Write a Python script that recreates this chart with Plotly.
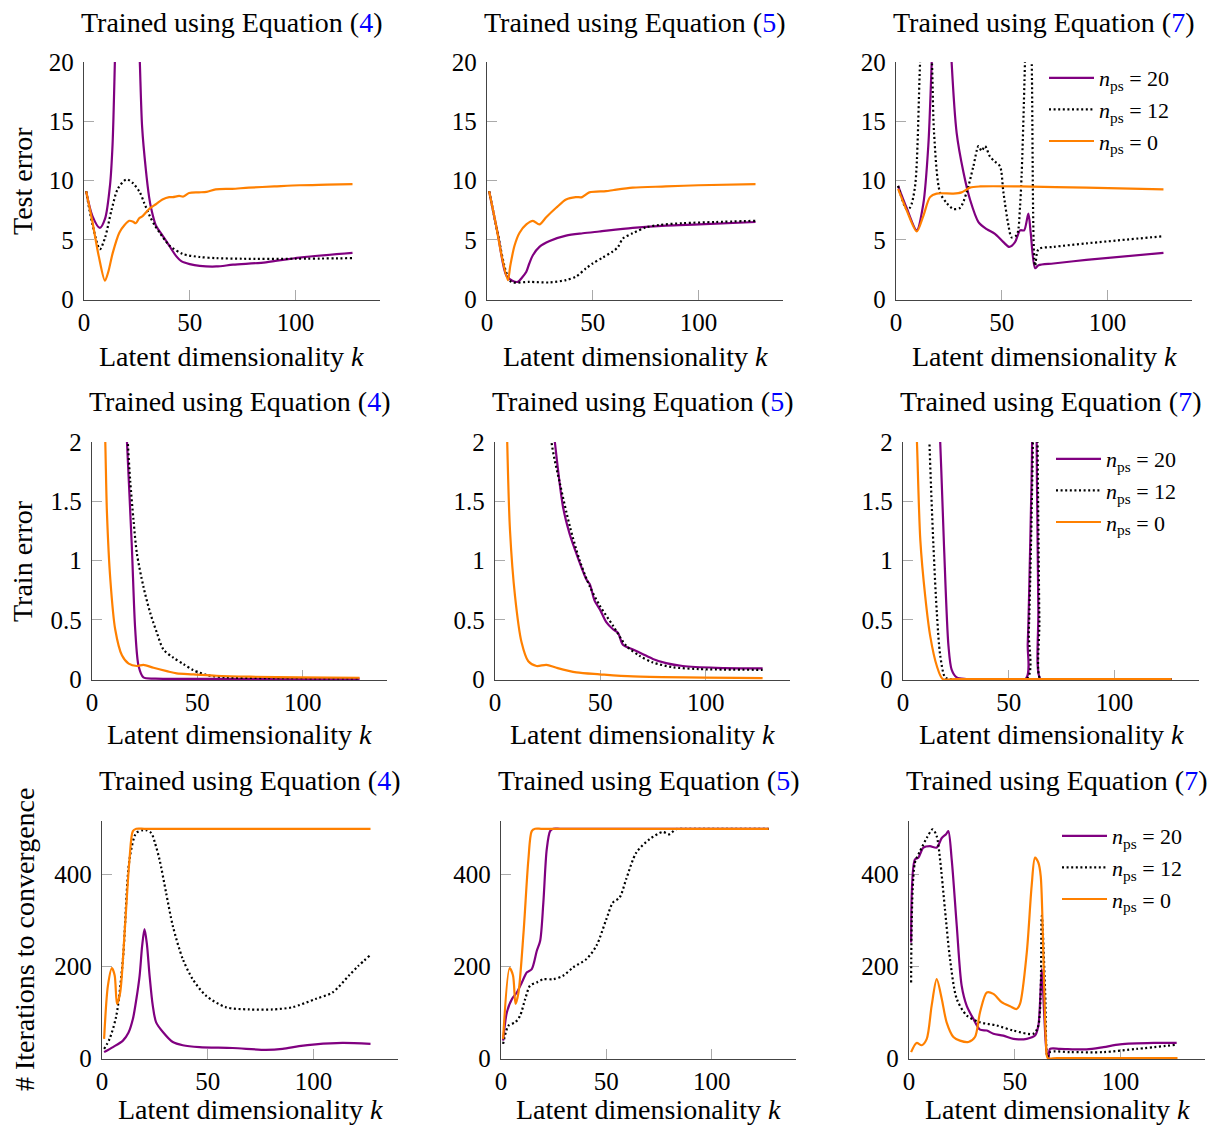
import plotly.graph_objects as go

W, H = 1217, 1126
PURPLE = "#800080"
ORANGE = "#FF8000"
BLACK = "#000000"

x_ticks = [0, 50, 100]
row_yticks = [[0, 5, 10, 15, 20], [0, 0.5, 1, 1.5, 2], [0, 200, 400]]
row_ytext = [["0", "5", "10", "15", "20"], ["0", "0.5", "1", "1.5", "2"], ["0", "200", "400"]]
row_yrange = [[-0.08, 20], [-0.008, 2], [-2, 517]]
row_ylabel = ["Test error", "Train error", "# Iterations to convergence"]
equations = ["4", "5", "7"]
series_names = ["<i>n</i><sub>ps</sub> = 20", "<i>n</i><sub>ps</sub> = 12", "<i>n</i><sub>ps</sub> = 0"]

# ---------------- Row 1: Test error ----------------
k_test4_n20 = [1, 4, 7.5, 10, 12.3, 13.5, 14.6, 17, 20, 23, 26.4, 27.5, 29.2, 30.8, 31.7, 34, 37, 40.3, 43.7, 46, 50, 54.7, 62.6, 70.5, 86, 102, 127]
v_test4_n20 = [9.1, 7.0, 6.0, 6.8, 9.6, 13.0, 20.0, 40, 55, 40, 20.0, 14.5, 11.0, 8.6, 7.7, 6.2, 5.4, 4.5, 3.6, 3.2, 2.95, 2.8, 2.75, 2.9, 3.1, 3.5, 3.9]
k_test4_n12 = [1, 4, 7.5, 10, 13, 16, 20.1, 23, 26.4, 28.5, 31.1, 33.5, 35.8, 40.5, 46.8, 54.7, 62.6, 75, 100, 127]
v_test4_n12 = [9.1, 6.3, 4.2, 5.2, 7.5, 9.3, 10.1, 9.8, 9.0, 8.1, 7.0, 6.2, 5.6, 4.5, 3.8, 3.55, 3.45, 3.4, 3.4, 3.45]
k_test4_n0 = [1, 4, 7, 9.9, 11.5, 13.6, 16.7, 19, 21.4, 23, 24.5, 26, 27.7, 30.8, 34, 37.1, 40.3, 42, 45, 47, 49.7, 54.4, 58, 62.3, 70, 78, 90, 102, 115, 127]
v_test4_n0 = [9.1, 6.5, 3.6, 1.55, 2.3, 3.9, 5.6, 6.2, 6.6, 6.55, 6.4, 6.8, 7.0, 7.6, 8.0, 8.4, 8.6, 8.6, 8.7, 8.65, 8.95, 9.0, 9.05, 9.25, 9.3, 9.4, 9.5, 9.6, 9.65, 9.7]

k_test5_n20 = [1, 5, 9.1, 12, 14.6, 16.5, 18.6, 20, 21.7, 24.8, 29.6, 37.4, 45.3, 53.1, 68.9, 84.6, 100.3, 127]
v_test5_n20 = [9.1, 5.6, 2.0, 1.55, 1.45, 1.8, 2.3, 3.0, 3.7, 4.4, 4.9, 5.35, 5.55, 5.7, 6.0, 6.2, 6.3, 6.5]
k_test5_n12 = [1, 5, 9, 11.5, 20, 29.6, 37.4, 42.1, 46.9, 50, 54.7, 59.4, 62, 64.2, 68.9, 75.2, 81.4, 92.5, 108, 127]
v_test5_n12 = [9.1, 5.6, 2.3, 1.45, 1.45, 1.4, 1.6, 1.9, 2.6, 3.0, 3.5, 4.0, 4.4, 5.1, 5.55, 6.05, 6.25, 6.4, 6.5, 6.6]
k_test5_n0 = [1, 4, 7, 9.9, 11, 13, 15.4, 18.6, 21.7, 24.8, 28, 32.7, 37.4, 42, 45, 48.4, 56.3, 60, 68.9, 84.6, 100, 127]
v_test5_n0 = [9.1, 6.5, 3.6, 1.6, 2.8, 4.5, 5.6, 6.3, 6.6, 6.3, 6.9, 7.7, 8.4, 8.6, 8.6, 9.0, 9.1, 9.2, 9.4, 9.5, 9.6, 9.7]

k_test7_n20 = [1, 5, 9.8, 12.9, 15.3, 16.9, 20, 23, 26.3, 28.7, 31.9, 35, 39, 42.9, 46.8, 50.8, 53.6, 56.3, 58.7, 60.6, 62.6, 63.7, 65.8, 67.4, 74.4, 90, 126.5]
v_test7_n20 = [9.55, 7.7, 5.8, 8.0, 13.0, 20, 35, 35, 20, 14, 10.7, 8.4, 6.5, 5.9, 5.5, 4.8, 4.4, 4.8, 5.8, 5.8, 7.2, 5.6, 2.6, 2.85, 3.0, 3.3, 3.9]
k_test7_n12 = [1, 5, 6.6, 9, 11.4, 14, 17, 18, 20.8, 24, 27.1, 30.3, 33.4, 36.6, 39, 40.5, 42.1, 44.5, 46.8, 49.2, 50.8, 53.2, 54.7, 57.1, 58.7, 61, 62.5, 64.2, 65.8, 67.4, 74.4, 90.2, 126.5]
v_test7_n12 = [9.55, 7.6, 7.7, 9.5, 20, 30, 20, 14, 9.0, 8.1, 7.6, 7.7, 9.0, 11.2, 12.9, 12.5, 12.9, 12.0, 11.6, 11.2, 9.0, 6.2, 5.2, 5.4, 7.9, 20, 35, 20, 2.8, 4.2, 4.4, 4.7, 5.3]
k_test7_n0 = [1, 5, 9.8, 12.9, 16.1, 19.2, 27.1, 31, 35, 39.7, 58.7, 90, 126.5]
v_test7_n0 = [9.3, 7.5, 5.7, 7.0, 8.6, 8.9, 8.9, 9.0, 9.4, 9.5, 9.5, 9.4, 9.26]

# ---------------- Row 2: Train error ----------------
k_train4_n20 = [1, 5, 10, 15, 16.6, 18.9, 20.5, 22.1, 24.4, 30, 50, 80, 127]
v_train4_n20 = [9, 7, 5, 2.6, 2.0, 1.12, 0.42, 0.11, 0.014, 0.004, 0.002, 0.001, 0.001]
k_train4_n12 = [1, 5, 10, 15, 17, 18.1, 19.7, 21.3, 24.4, 27.6, 30.8, 33.9, 38.6, 43.4, 48.1, 54.4, 63.9, 82.8, 127]
v_train4_n12 = [9, 7, 5, 2.8, 2.0, 1.68, 1.34, 1.06, 0.78, 0.56, 0.39, 0.25, 0.18, 0.126, 0.075, 0.034, 0.014, 0.008, 0.006]
k_train4_n0 = [1, 3, 5, 6.3, 7.1, 8.7, 11, 14.2, 17.4, 21.3, 24.4, 29.2, 35.5, 40.2, 48.1, 59, 75, 98.6, 127]
v_train4_n0 = [9, 5, 2.8, 2.0, 1.4, 0.84, 0.42, 0.2, 0.13, 0.11, 0.12, 0.095, 0.067, 0.048, 0.04, 0.028, 0.02, 0.014, 0.011]

k_train5_n20 = [1, 10, 20, 28.4, 32.3, 35.5, 38.6, 43.4, 45, 47.3, 49.7, 52.8, 56, 58.4, 60.7, 65.5, 70.2, 74.9, 81.2, 89.1, 104.9, 127]
v_train5_n20 = [9, 6, 3.5, 2.0, 1.45, 1.22, 1.06, 0.84, 0.8, 0.66, 0.59, 0.48, 0.42, 0.39, 0.29, 0.25, 0.21, 0.17, 0.134, 0.11, 0.095, 0.09]
k_train5_n12 = [1, 10, 20, 26.8, 30.8, 35.5, 40.2, 45, 49.7, 56, 62.3, 68.6, 74.9, 84.4, 97, 127]
v_train5_n12 = [9, 6, 3.5, 2.0, 1.65, 1.29, 1.0, 0.78, 0.62, 0.45, 0.28, 0.196, 0.14, 0.1, 0.084, 0.078]
k_train5_n0 = [1, 3, 5, 5.8, 7.1, 9.5, 12.6, 15.8, 19.7, 24.4, 29.2, 38.6, 49.7, 65.5, 127]
v_train5_n0 = [9, 5, 2.8, 2.0, 1.26, 0.7, 0.31, 0.15, 0.11, 0.12, 0.095, 0.056, 0.04, 0.022, 0.008]

k_train7_n20 = [1, 10, 17.6, 19.4, 21.5, 23, 25.4, 30, 58, 59, 60, 61, 62, 63, 64, 65, 70, 127]
v_train7_n20 = [9, 5, 2.0, 1.12, 0.28, 0.08, 0.014, 0.0, 0.0, 0.3, 1.0, 1.9, 5, 2.5, 0.6, 0.0, 0.0, 0.0]
k_train7_n12 = [1, 8, 12.5, 14.4, 16, 17.6, 19.9, 22, 58.5, 59.5, 60.5, 61.5, 62.5, 63.5, 64.5, 65, 70, 127]
v_train7_n12 = [9, 5, 2.0, 1.12, 0.56, 0.2, 0.014, 0.0, 0.0, 0.4, 1.1, 2.1, 5, 2.3, 0.5, 0.0, 0.0, 0.0]
k_train7_n0 = [1, 3, 5, 6.6, 8.2, 10.5, 12.9, 16, 18.8, 25, 127]
v_train7_n0 = [9, 5, 2.8, 2.0, 1.17, 0.7, 0.36, 0.11, 0.0, 0.0, 0.0]

# ---------------- Row 3: Iterations to convergence ----------------
k_iter4_n20 = [1, 5.2, 9.9, 12.5, 14.6, 16.3, 17.8, 19, 20.1, 21.2, 22.5, 24, 25.6, 28.8, 33.5, 38.2, 46.1, 61.8, 77.5, 85.4, 93.2, 101, 113.7, 127]
v_iter4_n20 = [13, 24, 38, 55, 85, 130, 180, 245, 281, 250, 180, 115, 78, 57, 35, 28, 24, 22, 18, 20, 26, 30, 33, 31]
k_iter4_n12 = [1, 3.6, 6.8, 9.9, 13, 16.2, 19.3, 21, 23.3, 25, 27.2, 30.3, 33.5, 38.2, 42.9, 49.2, 58.6, 69.7, 80.7, 90.1, 101, 109, 116.8, 121, 127]
v_iter4_n12 = [20, 42, 93, 216, 433, 491, 497, 497, 491, 470, 433, 361, 288, 216, 172, 136, 111, 106, 106, 111, 129, 143, 180, 200, 225]
k_iter4_n0 = [1, 2.8, 4.7, 6, 7.1, 8.6, 10.7, 13, 14.6, 16.2, 20, 30, 127]
v_iter4_n0 = [42, 158, 196, 180, 118, 143, 274, 433, 495, 500, 500, 500, 500]

k_iter5_n20 = [1, 2.8, 5.2, 7.5, 9.9, 12.3, 14.6, 17, 18.6, 20.1, 21.7, 23.3, 24.8, 28, 35, 127]
v_iter5_n20 = [38, 100, 129, 143, 165, 187, 194, 234, 256, 339, 455, 495, 500, 500, 500, 500]
k_iter5_n12 = [1, 3.6, 6.8, 9.1, 11.5, 13.8, 17, 20.1, 24.8, 29.6, 34.3, 40.6, 45.3, 50, 53.1, 56.3, 59.4, 64.2, 70.4, 76.7, 79.9, 83, 87.7, 95, 127]
v_iter5_n12 = [31, 71, 78, 93, 129, 158, 165, 172, 172, 180, 198, 216, 245, 303, 339, 350, 390, 448, 477, 493, 488, 499, 500, 500, 500]
k_iter5_n0 = [1, 4.1, 5.7, 6.9, 8.3, 10.7, 13, 14.6, 16.2, 19, 25, 127]
v_iter5_n0 = [42, 196, 180, 118, 143, 274, 433, 495, 500, 500, 500, 500]

k_iter7_n20 = [1, 2.8, 4.4, 6.8, 9.9, 13.1, 15.5, 17.5, 18.6, 20.2, 22.6, 24.9, 27.3, 30.4, 33.6, 36.8, 39.9, 44.6, 49.4, 55.7, 59.6, 61.2, 62.8, 63.9, 65.1, 66, 66.7, 71.5, 84, 92, 99.8, 115.6, 126.6]
v_iter7_n20 = [252, 433, 437, 459, 462, 459, 480, 488, 495, 433, 288, 158, 114, 86, 62, 60, 53, 49, 42, 42, 49, 71, 194, 100, 13, 0, 20, 20, 19, 24, 30, 33, 33]
k_iter7_n12 = [1, 2.8, 5.2, 8.4, 11.2, 13.1, 14.7, 17, 19.4, 22.6, 27.3, 33.6, 41.5, 49.4, 58.8, 61.2, 62.8, 64.4, 65.5, 66.7, 76.2, 92, 107.7, 126.6]
v_iter7_n12 = [165, 426, 451, 480, 499, 484, 433, 325, 216, 129, 93, 78, 71, 60, 53, 71, 310, 143, 2, 13, 13, 13, 20, 29]
k_iter7_n0 = [1, 3.6, 6, 8.4, 10.7, 13.1, 15.5, 17.8, 21, 24.1, 28.1, 31.2, 33.6, 36.8, 39.9, 43.8, 47.8, 50.9, 52.5, 55.7, 58, 59.6, 61.2, 62.3, 63.6, 64.8, 65.6, 70, 127]
v_iter7_n0 = [13, 33, 28, 42, 114, 172, 129, 78, 46, 38, 35, 46, 100, 143, 140, 122, 113, 107, 118, 230, 375, 437, 426, 397, 216, 35, 0, 0, 0]

panels = [
    [(k_test4_n20, v_test4_n20, k_test4_n12, v_test4_n12, k_test4_n0, v_test4_n0),
     (k_test5_n20, v_test5_n20, k_test5_n12, v_test5_n12, k_test5_n0, v_test5_n0),
     (k_test7_n20, v_test7_n20, k_test7_n12, v_test7_n12, k_test7_n0, v_test7_n0)],
    [(k_train4_n20, v_train4_n20, k_train4_n12, v_train4_n12, k_train4_n0, v_train4_n0),
     (k_train5_n20, v_train5_n20, k_train5_n12, v_train5_n12, k_train5_n0, v_train5_n0),
     (k_train7_n20, v_train7_n20, k_train7_n12, v_train7_n12, k_train7_n0, v_train7_n0)],
    [(k_iter4_n20, v_iter4_n20, k_iter4_n12, v_iter4_n12, k_iter4_n0, v_iter4_n0),
     (k_iter5_n20, v_iter5_n20, k_iter5_n12, v_iter5_n12, k_iter5_n0, v_iter5_n0),
     (k_iter7_n20, v_iter7_n20, k_iter7_n12, v_iter7_n12, k_iter7_n0, v_iter7_n0)],
]

# layout geometry (pixels)
col_px = [[(84, 380), (487, 783), (896, 1192)],
          [(92, 387), (495, 790), (903, 1199)],
          [(102, 398), (501, 796), (909, 1205)]]
row_px = [(62, 300), (442, 680), (821, 1059)]
title_y = [22, 401, 780]
xlabel_y = [356, 735, 1109]
ylabel_x = [22, 22, 24]
legend_pos = [(1044, 57), (1051, 438), (1057, 815)]

FONT = "Liberation Serif, Times New Roman, serif"
fig = go.Figure()
annotations = []
layout = {}

def px(x):
    return x / W

def py(y):
    return 1 - y / H

styles = [dict(color=PURPLE, width=2.2, shape="spline", smoothing=0.8),
          dict(color=BLACK, width=2.2, dash="2px,2.6px", shape="spline", smoothing=0.8),
          dict(color=ORANGE, width=2.2, shape="spline", smoothing=0.8)]

for r in range(3):
    for c in range(3):
        i = r * 3 + c + 1
        xa = "xaxis" if i == 1 else f"xaxis{i}"
        ya = "yaxis" if i == 1 else f"yaxis{i}"
        xref = "x" if i == 1 else f"x{i}"
        yref = "y" if i == 1 else f"y{i}"
        x0, x1 = col_px[r][c]
        y0, y1 = row_px[r]
        layout[xa] = dict(domain=[px(x0), px(x1)], anchor=yref, range=[0, 140],
                          tickvals=x_ticks, ticktext=[str(t) for t in x_ticks],
                          ticks="inside", ticklen=10, tickwidth=1.2, tickcolor="#aaaaaa",
                          showline=True, linecolor="#444444", linewidth=1.3,
                          showgrid=False, zeroline=False, automargin=False,
                          layer="below traces",
                          tickfont=dict(family=FONT, size=25, color="black"))
        layout[ya] = dict(domain=[py(y1), py(y0)], anchor=xref, range=row_yrange[r],
                          tickvals=row_yticks[r], ticktext=row_ytext[r],
                          ticks="inside", ticklen=10, tickwidth=1.2, tickcolor="#aaaaaa",
                          showline=True, linecolor="#444444", linewidth=1.3,
                          showgrid=False, zeroline=False, automargin=False,
                          layer="below traces", ticklabelstandoff=4,
                          tickfont=dict(family=FONT, size=25, color="black"))
        data = panels[r][c]
        for s in range(3):
            kk, vv = data[2 * s], data[2 * s + 1]
            tr = dict(x=kk, y=vv, mode="lines", line=styles[s], name=series_names[s],
                      xaxis=xref, yaxis=yref, showlegend=(c == 2))
            if c == 2:
                tr["legend"] = "legend" if r == 0 else f"legend{r + 1}"
            fig.add_trace(go.Scatter(**tr))
        cx = (x0 + x1) / 2
        annotations.append(dict(x=px(cx), y=py(title_y[r]), xref="paper", yref="paper",
                                text=f"Trained using Equation (<span style='color:#0000ff'>{equations[c]}</span>)",
                                showarrow=False, xanchor="center", yanchor="middle",
                                font=dict(family=FONT, size=28, color="black")))
        annotations.append(dict(x=px(cx), y=py(xlabel_y[r]), xref="paper", yref="paper",
                                text="Latent dimensionality <i>k</i>",
                                showarrow=False, xanchor="center", yanchor="middle",
                                font=dict(family=FONT, size=28, color="black")))
    annotations.append(dict(x=px(ylabel_x[r]), y=py((row_px[r][0] + row_px[r][1]) / 2),
                            xref="paper", yref="paper", text=row_ylabel[r], textangle=-90,
                            showarrow=False, xanchor="center", yanchor="middle",
                            font=dict(family=FONT, size=28, color="black")))

for r in range(3):
    lx, ly = legend_pos[r]
    key = "legend" if r == 0 else f"legend{r + 1}"
    layout[key] = dict(x=px(lx), y=py(ly), xref="paper", yref="paper",
                       xanchor="left", yanchor="top",
                       bgcolor="rgba(0,0,0,0)", borderwidth=0, itemwidth=45,
                       font=dict(family=FONT, size=22, color="black"),
                       tracegroupgap=0)

fig.update_layout(template="none", width=W, height=H,
                  margin=dict(l=0, r=0, t=0, b=0, pad=0, autoexpand=False),
                  paper_bgcolor="white", plot_bgcolor="white",
                  annotations=annotations, **layout)
fig.write_html("out.html", config={"displayModeBar": False},
               post_script="document.body.style.margin='0px';")
